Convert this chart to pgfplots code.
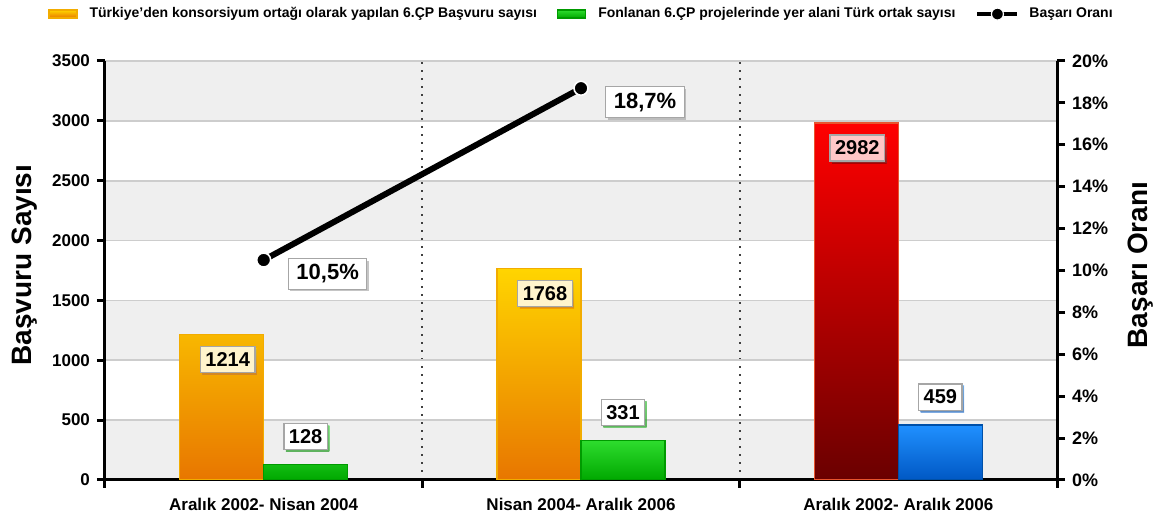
\documentclass[border=0pt]{standalone}
\usepackage{fontspec}
\setmainfont{Liberation Sans}
\usepackage{pgfplots}
\pgfplotsset{compat=1.18}
\usetikzlibrary{shadows}
\definecolor{bandgray}{HTML}{EFEFEF}
\definecolor{gridgray}{HTML}{CDCDCD}
\definecolor{orTop}{HTML}{FFD500}
\definecolor{orBot}{HTML}{E87600}
\definecolor{orDraw}{HTML}{F2AC00}
\definecolor{grTop}{HTML}{2EDC2E}
\definecolor{grBot}{HTML}{00A800}
\definecolor{grDraw}{HTML}{009A00}
\definecolor{rdTop}{HTML}{FF0000}
\definecolor{rdBot}{HTML}{6A0000}
\definecolor{rdDraw}{HTML}{E8542E}
\definecolor{blTop}{HTML}{2090FF}
\definecolor{blBot}{HTML}{0058C4}
\definecolor{blDraw}{HTML}{0050A8}
\definecolor{cream}{HTML}{FFF4CC}
\definecolor{pinkfill}{HTML}{FFC6C6}
\tikzset{
  lblbox/.style={anchor=center, draw=gray!70, line width=0.6pt, text=black,
     font=\bfseries\fontsize{10}{12}\selectfont, inner xsep=2.5pt, inner ysep=3pt,
     drop shadow={shadow xshift=1pt, shadow yshift=-1pt, fill=black!45, draw=none}},
}
\pgfplotsset{
  barlegend/.style={legend image code/.code={\draw[##1,/tikz/.cd,line width=0.6pt] (0pt,-2pt) rectangle (14pt,2pt); \path (18pt,0pt);}},
  linelegend/.style={legend image code/.code={\draw[mark repeat=2,mark phase=2,##1] plot coordinates {(0pt,0pt) (10pt,0pt) (20pt,0pt)}; \path (23pt,0pt);}},
  base/.style={at={(0,0)}, anchor=south west,
    scale only axis, width=476pt, height=209.5pt, xmin=-0.5, xmax=2.5},
}
\begin{document}
\begin{tikzpicture}
\begin{pgfinterruptboundingbox}
% background bands
\begin{axis}[base, ymin=0, ymax=3500, hide axis]
\fill[bandgray] (axis cs:-0.5,0) rectangle (axis cs:2.5,500);
\fill[bandgray] (axis cs:-0.5,1000) rectangle (axis cs:2.5,1500);
\fill[bandgray] (axis cs:-0.5,2000) rectangle (axis cs:2.5,2500);
\fill[bandgray] (axis cs:-0.5,3000) rectangle (axis cs:2.5,3500);
\end{axis}
\begin{axis}[
  base, ymin=0, ymax=3500,
  axis x line*=bottom, axis y line*=left,
  axis line style={line width=1.5pt, black},
  tick align=outside, major tick length=4pt, minor tick length=4pt,
  tick style={line width=1.5pt, black},
  xtick={0,1,2},
  xticklabels={Aralık 2002- Nisan 2004, Nisan 2004- Aralık 2006, Aralık 2002- Aralık 2006},
  major x tick style={draw=none},
  x tick label style={yshift=-1.5pt},
  minor xtick={-0.5,0.5,1.5,2.5},
  xminorgrids=true,
  minor x grid style={black!75, line width=1pt, dash pattern=on 1pt off 3pt},
  ytick={0,500,...,3500},
  ymajorgrids=true,
  major y grid style={gridgray, line width=0.8pt},
  /pgf/number format/1000 sep={},
  /pgf/number format/assume math mode=true,
  tick label style={font=\bfseries\fontsize{8.5}{10}\selectfont},
  ylabel={Başvuru Sayısı},
  ylabel style={at={(axis description cs:-0.084,0.513)}, anchor=center, font=\bfseries\fontsize{14}{16}\selectfont},
  legend style={at={(axis description cs:0.5016,1.112)}, anchor=center, draw=none, fill=none,
     font=\bfseries\fontsize{7}{8.5}\selectfont,
     /tikz/every even column/.append style={column sep=8pt}},
  legend columns=3,
  legend cell align=left,
]
% Türkiye'den başvuru (categories 1-2)
\addplot[ybar, bar width=42pt, bar shift=-21pt, draw=orDraw, line width=0.7pt,
   top color=orTop, bottom color=orBot,
   nodes near coords,
   every node near coord/.append style={lblbox, fill=cream, xshift=-18pt, yshift=-12.5pt},
   barlegend]
   coordinates {(0,1214) (1,1768)};
\addlegendentry{Türkiye'den konsorsiyum ortağı olarak yapılan 6.ÇP Başvuru sayısı}
% Fonlanan (categories 1-2)
\addplot[ybar, bar width=42pt, bar shift=21pt, draw=grDraw, line width=0.7pt,
   top color=grTop, bottom color=grBot,
   nodes near coords,
   every node near coord/.append style={lblbox, fill=white, xshift=21pt, yshift=14pt},
   barlegend]
   coordinates {(0,128) (1,331)};
\addlegendentry{Fonlanan 6.ÇP projelerinde yer alani Türk ortak sayısı}
% totals (category 3)
\addplot[forget plot, ybar, bar width=42pt, bar shift=-21pt, draw=rdDraw, line width=0.7pt,
   top color=rdTop, bottom color=rdBot,
   nodes near coords,
   every node near coord/.append style={lblbox, fill=pinkfill, xshift=-20.5pt, yshift=-12.5pt}]
   coordinates {(2,2982)};
\addplot[forget plot, ybar, bar width=42pt, bar shift=21pt, draw=blDraw, line width=0.7pt,
   top color=blTop, bottom color=blBot,
   nodes near coords,
   every node near coord/.append style={lblbox, fill=white, xshift=21pt, yshift=14pt}]
   coordinates {(2,459)};
\addlegendimage{black, line width=2pt, mark=*, mark size=3pt, mark options={fill=black, draw=white, line width=0.6pt}, linelegend}
\addlegendentry{Başarı Oranı}
\end{axis}
\begin{axis}[
  base, ymin=0, ymax=20,
  axis x line=none, axis y line*=right,
  axis line style={line width=1.5pt, black},
  tick align=outside, major tick length=4pt,
  tick style={line width=1.5pt, black},
  ytick={0,2,...,20},
  yticklabel={\pgfmathprintnumber{\tick}\%},
  /pgf/number format/assume math mode=true,
  tick label style={font=\bfseries\fontsize{9}{10}\selectfont},
  ylabel={Başarı Oranı},
  ylabel style={at={(axis description cs:1.088,0.513)}, anchor=center, font=\bfseries\fontsize{14}{16}\selectfont},
]
\addplot[black, line width=3pt, mark=*, mark size=3.5pt,
   mark options={fill=black, draw=white, line width=0.8pt},
   nodes near coords={\pgfmathprintnumber[fixed,fixed zerofill,precision=1,use comma]{\pgfplotspointmeta}\%},
   every node near coord/.append style={lblbox, fill=white, font=\bfseries\fontsize{11}{13}\selectfont,
      inner xsep=4pt, xshift=32pt, yshift=-7pt}]
   coordinates {(0,10.5) (1,18.7)};
\end{axis}
\end{pgfinterruptboundingbox}
\useasboundingbox (-52.5pt,-18.5pt) rectangle (525.5pt,240pt);
\end{tikzpicture}
\end{document}
